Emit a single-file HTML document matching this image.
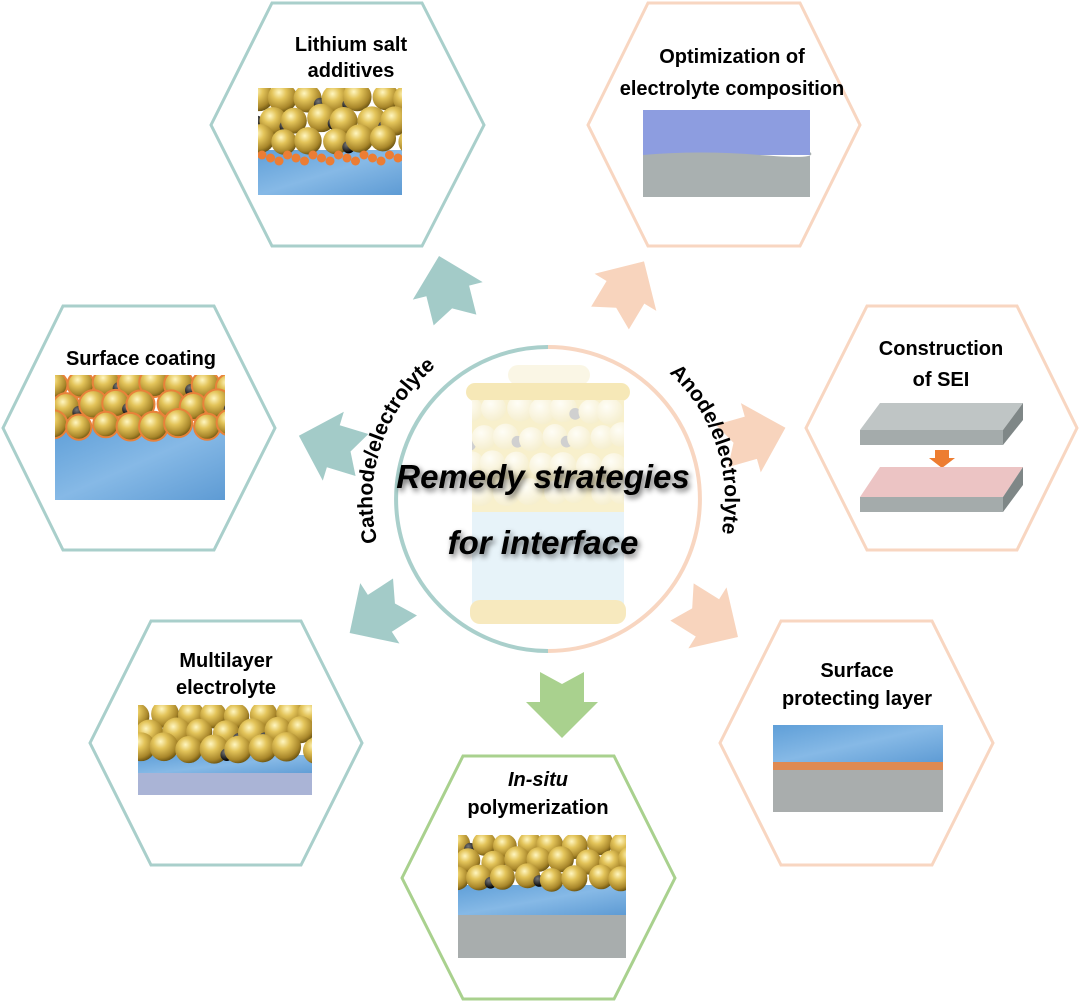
<!DOCTYPE html>
<html><head><meta charset="utf-8"><style>
html,body{margin:0;padding:0;background:#fff;}
svg{display:block;}
text{font-family:"Liberation Sans",Arial,sans-serif;font-weight:bold;fill:#000;}
</style></head><body>
<svg id="s" width="1080" height="1002" viewBox="0 0 1080 1002" xmlns="http://www.w3.org/2000/svg">
<defs>
<radialGradient id="gold" cx="0.38" cy="0.32" r="0.7">
<stop offset="0" stop-color="#fff6c0"/><stop offset="0.35" stop-color="#e3c45a"/><stop offset="0.8" stop-color="#a8862a"/><stop offset="1" stop-color="#6e5612"/></radialGradient>
<radialGradient id="blk" cx="0.35" cy="0.3" r="0.7"><stop offset="0" stop-color="#777"/><stop offset="1" stop-color="#000"/></radialGradient>
<radialGradient id="pale" cx="0.38" cy="0.32" r="0.7"><stop offset="0" stop-color="#fffdf0"/><stop offset="1" stop-color="#efe2a8"/></radialGradient>
<linearGradient id="blue" x1="0" y1="0" x2="1" y2="1"><stop offset="0" stop-color="#5f9fd8"/><stop offset="0.5" stop-color="#86b9e6"/><stop offset="1" stop-color="#5e9bd4"/></linearGradient>
<filter id="sh" x="-10%" y="-30%" width="120%" height="160%"><feGaussianBlur in="SourceAlpha" stdDeviation="3"/><feOffset dx="2" dy="3"/><feComponentTransfer><feFuncA type="linear" slope="0.6"/></feComponentTransfer><feMerge><feMergeNode/><feMergeNode in="SourceGraphic"/></feMerge></filter>
<path id="arrow" d="M0,-22 L30,-22 L30,-36 L66,0 L30,36 L30,22 L0,22 L12,0 Z"/>
<path id="arcL" d="M392,580 A172,172 0 0 1 470,345"/>
<path id="arcR" d="M628,345 A172,172 0 0 1 705,580"/>
<clipPath id="c1"><rect x="258" y="88" width="144" height="107"/></clipPath>
<clipPath id="c3"><rect x="55" y="375" width="170" height="125"/></clipPath>
<clipPath id="c5"><rect x="138" y="705" width="174" height="90"/></clipPath>
<clipPath id="c7"><rect x="458" y="835" width="168" height="123"/></clipPath>
<clipPath id="cb"><rect x="472" y="400" width="152" height="112"/></clipPath>
</defs>

<g fill="none" stroke-width="3">
<polygon stroke="#a9cfcb" points="272,3 422,3 484,125 422,246 272,246 211,125"/>
<polygon stroke="#f8d6c1" points="648,3 800,3 860,125 800,246 648,246 588,125"/>
<polygon stroke="#a9cfcb" points="63,306 214,306 275,428 214,550 63,550 3,428"/>
<polygon stroke="#f8d6c1" points="867,306 1017,306 1077,428 1017,550 867,550 806,428"/>
<polygon stroke="#a9cfcb" points="151,621 301,621 362,743 301,865 151,865 90,743"/>
<polygon stroke="#f8d6c1" points="781,621 932,621 993,743 932,865 781,865 720,743"/>
<polygon stroke="#a9d18e" points="463,756 614,756 675,878 614,999 463,999 402,878"/>
</g>

<g font-size="20" text-anchor="middle">
<text x="351" y="51">Lithium salt</text><text x="351" y="77">additives</text>
<text x="732" y="63">Optimization of</text><text x="732" y="95">electrolyte composition</text>
<text x="141" y="365">Surface coating</text>
<text x="941" y="355">Construction</text><text x="941" y="386">of SEI</text>
<text x="226" y="667">Multilayer</text><text x="226" y="694">electrolyte</text>
<text x="857" y="677">Surface</text><text x="857" y="705">protecting layer</text>
<text x="538" y="786" font-style="italic">In-situ</text><text x="538" y="814">polymerization</text>
</g>

<rect x="258" y="150" width="144" height="45" fill="url(#blue)"/>
<rect x="55" y="425" width="170" height="75" fill="url(#blue)"/>
<rect x="138" y="755" width="174" height="20" fill="url(#blue)"/>
<rect x="138" y="773" width="174" height="22" fill="#aab4d6"/>
<rect x="458" y="885" width="168" height="30" fill="url(#blue)"/>
<rect x="458" y="915" width="168" height="43" fill="#a8adad"/>
<rect x="643" y="110" width="167" height="45" fill="#8d9de0"/>
<path d="M643,155 Q700,150 760,155 T810,152 L810,197 L643,197Z" fill="#a9b0b0"/>
<rect x="773" y="725" width="170" height="38" fill="url(#blue)"/>
<rect x="773" y="762" width="170" height="8" fill="#df8a52"/>
<rect x="773" y="770" width="170" height="42" fill="#a9adad"/>
<polygon points="860,430 880,403 1023,403 1003,430" fill="#bfc5c5"/>
<polygon points="860,430 1003,430 1003,445 860,445" fill="#a4abab"/>
<polygon points="1003,430 1023,403 1023,420 1003,445" fill="#7f8787"/>
<polygon points="935,450 949,450 949,458 955,458 942,468 929,458 935,458" fill="#ed7d31"/>
<polygon points="860,497 880,467 1023,467 1003,497" fill="#ecc4c4"/>
<polygon points="860,497 1003,497 1003,512 860,512" fill="#a4abab"/>
<polygon points="1003,497 1023,467 1023,485 1003,512" fill="#7f8787"/>
<g id="sp1" clip-path="url(#c1)"></g>
<g id="sp3" clip-path="url(#c3)"></g>
<g id="sp5" clip-path="url(#c5)"></g>
<g id="sp7" clip-path="url(#c7)"></g>

<g>
<use href="#arrow" fill="#a3cbc8" transform="translate(455,320) rotate(-104)"/>
<use href="#arrow" fill="#f8d4bd" transform="translate(610,318) rotate(-59)"/>
<use href="#arrow" fill="#a3cbc8" transform="translate(362,455) rotate(-163)"/>
<use href="#arrow" fill="#f8d4bd" transform="translate(722,446) rotate(-16)"/>
<use href="#arrow" fill="#a3cbc8" transform="translate(405,597) rotate(147)"/>
<use href="#arrow" fill="#f8d4bd" transform="translate(682,602) rotate(32)"/>
<use href="#arrow" fill="#a9d18e" transform="translate(562,672) rotate(90)"/>
</g>

<g opacity="0.55">
<rect x="508" y="365" width="82" height="20" rx="10" fill="#f6eed0"/>
<rect x="466" y="383" width="164" height="18" rx="9" fill="#f0d77e"/>
<rect x="472" y="400" width="152" height="112" fill="#f3e4a4"/>
<g id="bat" clip-path="url(#cb)"></g>
<rect x="472" y="512" width="152" height="92" fill="#d5eaf5"/>
<rect x="470" y="600" width="156" height="24" rx="10" fill="#f1d88a"/>
</g>
<path d="M548,347 A152,152 0 0 0 548,651" fill="none" stroke="#a9cfcb" stroke-width="4"/>
<path d="M548,347 A152,152 0 0 1 548,651" fill="none" stroke="#f8d6c1" stroke-width="4"/>
<text font-size="21"><textPath href="#arcL" startOffset="50%" text-anchor="middle">Cathode/electrolyte</textPath></text>
<text font-size="21"><textPath href="#arcR" startOffset="50%" text-anchor="middle">Anode/electrolyte</textPath></text>
<g filter="url(#sh)" font-size="33" font-style="italic" text-anchor="middle">
<text x="543" y="488">Remedy strategies</text>
<text x="543" y="554">for interface</text>
</g>
</svg>
<script>
var NS="http://www.w3.org/2000/svg";
function rnd(seed){return function(){seed=(seed*9301+49297)%233280;return seed/233280;}}
function fill(id,x,y,w,rows,dy,r,seed,orange,pale){
 var g=document.getElementById(id),R=rnd(seed);
 for(var row=0;row<rows;row++){for(var i=-1;i<w/(r*1.7)+1;i++){
  var cx=x+i*r*1.8+(row%2?r*0.9:0)+(R()-0.5)*6, cy=y+r*0.7+row*dy+(R()-0.5)*5;
  var c=document.createElementNS(NS,"circle");c.setAttribute("cx",cx);c.setAttribute("cy",cy);c.setAttribute("r",r*(0.9+R()*0.15));
  c.setAttribute("fill",pale?"url(#pale)":"url(#gold)");
  if(orange){c.setAttribute("stroke","#e8823a");c.setAttribute("stroke-width","2");}
  g.appendChild(c);
  if(R()<0.25){var b=document.createElementNS(NS,"circle");b.setAttribute("cx",cx+r*0.9);b.setAttribute("cy",cy+r*0.4);b.setAttribute("r",r*0.45);b.setAttribute("fill",pale?"#aaa":"url(#blk)");g.appendChild(b);}
 }}
}
fill("sp1",258,88,144,3,21,14,3,false);
var g1=document.getElementById("sp1");
for(var i=0;i<17;i++){var c=document.createElementNS(NS,"circle");c.setAttribute("cx",262+i*8.5);c.setAttribute("cy",155+(i%3)*3);c.setAttribute("r",4.5);c.setAttribute("fill","#ec7d34");g1.appendChild(c);}
fill("sp3",55,375,170,3,20,14,7,true);
fill("sp5",138,705,174,3,17,14,11,false);
fill("sp7",458,835,168,3,17,13,5,false);
fill("bat",472,400,152,4,28,13,9,false,true);
</script>
</body></html>
